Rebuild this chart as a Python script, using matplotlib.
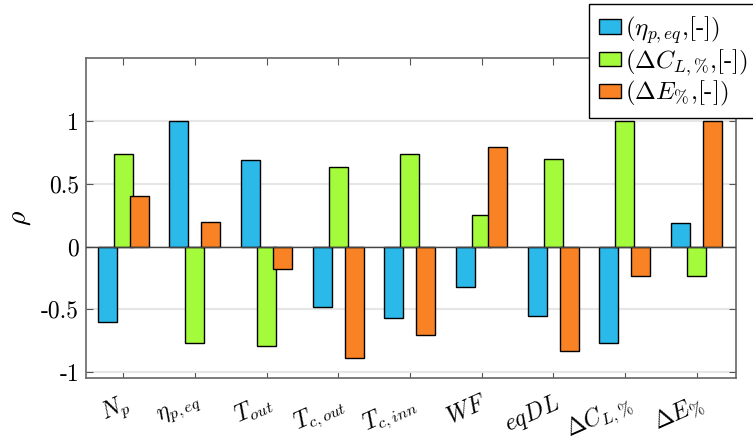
import numpy as np
import matplotlib
matplotlib.use("Agg")
import matplotlib.pyplot as plt
import matplotlib.transforms as mtransforms

# --- data (correlation coefficients) ---
categories = [r"$N_p$", r"$\eta_{p,eq}$", r"$T_{out}$", r"$T_{c,out}$", r"$T_{c,inn}$",
              r"$WF$", r"$eqDL$", r"$\Delta C_{L,\%}$", r"$\Delta E_{\%}$"]
rho_eta = [-0.60, 1.00, 0.69, -0.48, -0.57, -0.32, -0.55, -0.77, 0.19]
rho_dcl = [0.735, -0.77, -0.79, 0.63, 0.735, 0.25, 0.70, 1.00, -0.235]
rho_de = [0.40, 0.195, -0.18, -0.885, -0.705, 0.79, -0.83, -0.235, 1.00]
series_labels = [r"$(\eta_{p,eq}$,[-]$)$", r"$(\Delta C_{L,\%}$,[-]$)$", r"$(\Delta E_{\%}$,[-]$)$"]
colors = ["#2bb9ea", "#a3fb3b", "#f98224"]

plt.rcParams["font.family"] = "cmr10"
plt.rcParams["mathtext.fontset"] = "cm"
plt.rcParams["axes.unicode_minus"] = False
plt.rcParams["axes.formatter.use_mathtext"] = True

fig = plt.figure(figsize=(7.53, 4.44), dpi=100)
ax = fig.add_axes([0.1142, 0.148, 0.8632, 0.7207])

x = np.arange(1, len(categories) + 1)
offset = 0.223
width = 0.265
for i, (vals, lab, c) in enumerate(zip([rho_eta, rho_dcl, rho_de], series_labels, colors)):
    ax.bar(x + (i - 1) * offset, vals, width, color=c, edgecolor="black",
           linewidth=1.0, label=lab, zorder=3)

ax.axhline(0, color="#444444", linewidth=1.0, zorder=4)

ax.set_xlim(0.48, 9.55)
ax.set_ylim(-1.05, 1.5)
ax.set_yticks([-1, -0.5, 0, 0.5, 1])
ax.set_yticklabels(["-1", "-0.5", "0", "0.5", "1"], fontsize=17)
ax.set_xticks(x)
ax.set_xticklabels(categories, fontsize=17, rotation=24, ha="right", va="top",
                   rotation_mode="anchor")
offs = mtransforms.ScaledTranslation(12 / 100, 0, fig.dpi_scale_trans)
for t in ax.get_xticklabels():
    t.set_transform(t.get_transform() + offs)

ax.tick_params(axis="both", direction="in", top=True, right=True, length=5,
               color="#555555")
ax.tick_params(axis="x", pad=9)
ax.tick_params(axis="y", pad=5)
ax.grid(axis="y", color="#e6e6e6", linewidth=1.5, zorder=0)
ax.set_axisbelow(True)
for s in ax.spines.values():
    s.set_color("#666666")
    s.set_linewidth(1.2)

ax.set_ylabel(r"$\rho$", fontsize=20, labelpad=6)

leg = fig.legend(loc="upper left", bbox_to_anchor=(0.782, 0.991), fontsize=18,
                 frameon=True, fancybox=False, edgecolor="black", framealpha=1,
                 handlelength=0.9, handleheight=0.5, handletextpad=0.15,
                 labelspacing=0.05, borderpad=0.4, borderaxespad=0)
leg.get_frame().set_linewidth(1.0)

fig.savefig("out.png", dpi=100)
